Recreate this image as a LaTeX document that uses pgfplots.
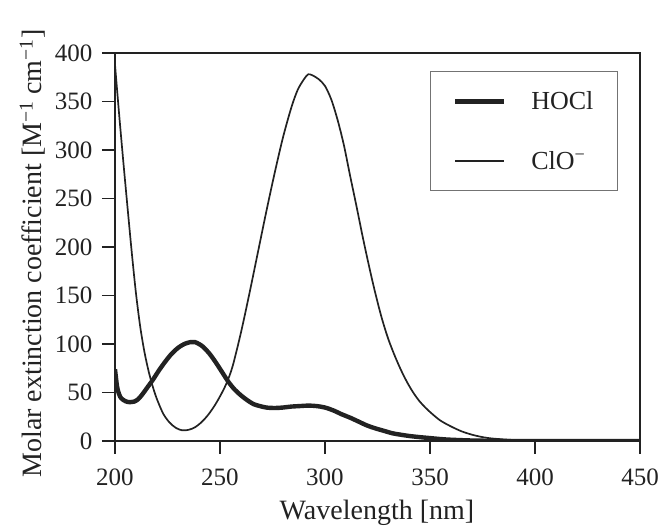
\documentclass[border=0pt]{standalone}
\usepackage{fontspec}
\setmainfont{Liberation Serif}
\usepackage{pgfplots}
\pgfplotsset{compat=1.18}
\usepackage{pgfplotstable}

\definecolor{ink}{HTML}{222222}

% thin curve: ClO-
\pgfplotstableread{
nm eps
200 388
202 336
204 287
206 240
208 194
210 152
212 118
214 92
216 72
218 56
220 43
223 28
226 19
229 13.5
232 11
235 11.5
238 14
241 19
244 26
247 35
250 46
253 59
256 77
260 112
264 152
268 194
272 236
276 276
280 313
284 344
287 362
290 373
292 378
294 377
297 373
300 366
303 352
306 331
309 305
312 273
315 242
318 210
321 180
324 152
327 127
330 106
333 89
336 74
339 61
342 50
345 41
348 34
351 28
355 21
360 15
365 10
370 6.5
375 4
380 2.5
390 1
400 0.3
420 0
450 0
}\clo

% thick curve: HOCl
\pgfplotstableread{
nm eps
200 74
201 56
202 48
203 44
205 41
207 40
209 40.5
211 43
213 48
215 54
218 63
221 73
224 82
227 90
230 96
233 100
236 102
238 102
240 100
242 97
245 90
248 81
251 71
254 61
257 53
260 47
263 42
266 38
269 36
272 34.5
276 34
280 34.5
284 35.5
288 36
292 36.5
296 36
300 34.5
304 31.5
308 27.5
312 24
316 20
320 16
324 13
328 10.5
332 8
336 6.5
340 5.2
345 4
350 3
355 2
360 1.3
370 0.5
380 0.2
390 0
450 0
}\hocl

\begin{document}
\begin{tikzpicture}
\useasboundingbox (-115pt,-85pt) rectangle (544pt,441pt);
\begin{axis}[
  scale only axis,
  width=525pt, height=388pt,
  xmin=200, xmax=450, ymin=0, ymax=400,
  xtick={200,250,...,450},
  ytick={0,50,...,400},
  tick pos=left,
  tick align=outside,
  major tick length=13pt,
  axis line style={ink, line width=1.7pt},
  every tick/.style={ink, line width=1.4pt},
  tick label style={font=\fontsize{25}{28}\selectfont, text=ink},
  xticklabel style={yshift=-11pt},
  yticklabel style={xshift=-6pt},
  /pgf/number format/assume math mode=true,
  label style={font=\fontsize{28}{32}\selectfont, text=ink},
  xlabel={Wavelength [nm]},
  ylabel={Molar extinction coefficient [M\textsuperscript{−1} cm\textsuperscript{−1}]},
  xlabel style={at={(axis description cs:0.499,-0.2036)}, anchor=base},
  ylabel style={at={(axis description cs:-0.1257,0.483)}, anchor=south},
  legend style={
    at={(rel axis cs:0.958,0.9536)}, anchor=north east,
    draw=black!55, line width=1.1pt,
    font=\fontsize{26}{30}\selectfont, text=ink,
    inner xsep=22pt, inner ysep=18pt,
    row sep=36pt,
    legend cell align=left,
    /tikz/every odd column/.append style={column sep=23pt},
  },
  legend image code/.code={\draw[#1] (0pt,0pt) -- (49pt,0pt);},
]
\addplot[ink, line width=4.4pt, smooth] table[x=nm, y=eps] {\hocl};
\addlegendentry{HOCl}
\addplot[ink, line width=1.7pt, smooth] table[x=nm, y=eps] {\clo};
\addlegendentry{ClO\textsuperscript{−}}
\end{axis}
\end{tikzpicture}
\end{document}
